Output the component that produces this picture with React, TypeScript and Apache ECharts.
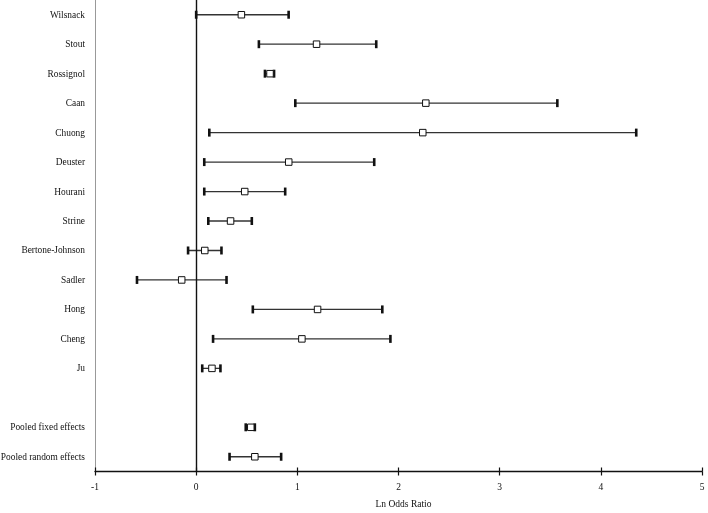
import React, { useEffect, useRef } from "react";
import * as echarts from "echarts";

const categories = [
  "Wilsnack", "Stout", "Rossignol", "Caan", "Chuong", "Deuster", "Hourani", "Strine",
  "Bertone-Johnson", "Sadler", "Hong", "Cheng", "Ju", "", "Pooled fixed effects", "Pooled random effects",
];
const rowIndex = [0, 1, 2, 3, 4, 5, 6, 7, 8, 9, 10, 11, 12, 14, 15];
const lower = [0.0, 0.62, 0.68, 0.98, 0.13, 0.08, 0.08, 0.12, -0.08, -0.585, 0.56, 0.167, 0.06, 0.49, 0.33];
const estimate = [0.447, 1.19, 0.73, 2.27, 2.24, 0.915, 0.48, 0.34, 0.085, -0.143, 1.2, 1.045, 0.156, 0.54, 0.58];
const upper = [0.914, 1.78, 0.77, 3.57, 4.35, 1.76, 0.88, 0.55, 0.25, 0.3, 1.84, 1.92, 0.24, 0.58, 0.84];
const xTicks = { min: -1, max: 5, interval: 1 };

const FONT = "Liberation Serif";
const TEXT = "#111";

export default function App() {
  const ref = useRef<HTMLDivElement>(null);
  useEffect(() => {
    if (!ref.current) return;
    const chart = echarts.init(ref.current, null, { renderer: "svg" });
    const data = rowIndex.map((r, i) => [r, lower[i], estimate[i], upper[i]]);
    chart.setOption({
      animation: false,
      textStyle: { fontFamily: FONT },
      grid: { left: 95, right: 6, top: 0, bottom: 41.5, outerBoundsMode: "none", containLabel: false },
      xAxis: [
        {
          type: "value",
          min: xTicks.min,
          max: xTicks.max,
          interval: xTicks.interval,
          splitLine: { show: false },
          axisLine: { show: true, onZero: false, lineStyle: { color: "#111", width: 1.3 } },
          axisTick: { show: true, length: 4, lineStyle: { color: "#111", width: 1.2 } },
          axisLabel: { fontFamily: FONT, fontSize: 9.5, color: TEXT, margin: 10 },
          name: "Ln Odds Ratio",
          nameLocation: "middle",
          nameGap: 27,
          nameTextStyle: { fontFamily: FONT, fontSize: 9.5, color: TEXT, padding: [0, 0, 0, 10] },
        },
        {
          type: "value",
          position: "bottom",
          min: xTicks.min,
          max: xTicks.max,
          interval: xTicks.interval,
          splitLine: { show: false },
          axisLine: { show: false, onZero: false },
          axisTick: { show: true, inside: true, length: 4, lineStyle: { color: "#111", width: 1.2 } },
          axisLabel: { show: false },
        },
      ],
      yAxis: {
        type: "category",
        data: categories,
        inverse: true,
        axisLine: { show: true, onZero: false, lineStyle: { color: "#999", width: 1 } },
        axisTick: { show: false },
        splitLine: { show: false },
        axisLabel: { fontFamily: FONT, fontSize: 9.4, color: TEXT, margin: 10 },
      },
      series: [
        {
          type: "custom",
          xAxisIndex: 0,
          encode: { y: 0, x: [1, 2, 3] },
          data,
          renderItem: (params: any, api: any) => {
            const y = api.value(0);
            const lo = api.coord([api.value(1), y]);
            const mid = api.coord([api.value(2), y]);
            const hi = api.coord([api.value(3), y]);
            const capW = 2.6;
            const capH = 8;
            const sq = 6.5;
            return {
              type: "group",
              children: [
                {
                  type: "line",
                  shape: { x1: lo[0], y1: lo[1], x2: hi[0], y2: hi[1] },
                  style: { stroke: "#333", lineWidth: 1.3 },
                },
                {
                  type: "rect",
                  shape: { x: lo[0] - capW / 2, y: lo[1] - capH / 2, width: capW, height: capH },
                  style: { fill: "#111" },
                },
                {
                  type: "rect",
                  shape: { x: hi[0] - capW / 2, y: hi[1] - capH / 2, width: capW, height: capH },
                  style: { fill: "#111" },
                },
                {
                  type: "rect",
                  shape: { x: mid[0] - sq / 2, y: mid[1] - sq / 2, width: sq, height: sq },
                  style: { fill: "#fff", stroke: "#111", lineWidth: 1 },
                },
              ],
            };
          },
          markLine: {
            silent: true,
            symbol: "none",
            label: { show: false },
            lineStyle: { color: "#111", width: 1.4, type: "solid" },
            data: [{ xAxis: 0 }],
          },
          z: 3,
        },
      ],
    });
    return () => chart.dispose();
  }, []);
  return (
    <div
      ref={ref}
      style={{ position: "fixed", left: 0, top: 0, width: 708, height: 513 }}
    />
  );
}
